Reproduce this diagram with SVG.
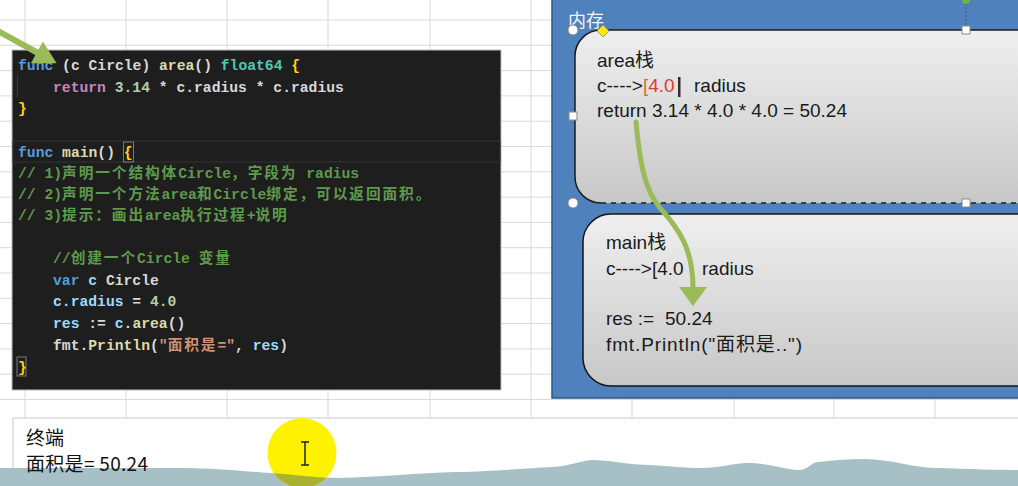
<svg xmlns="http://www.w3.org/2000/svg" width="1018" height="486" viewBox="0 0 1018 486">
<style>
.grid line{stroke:#d9d9d9;stroke-width:1}
.code{font-family:'Liberation Mono','Noto Sans CJK SC',monospace;font-size:14.7px;font-weight:bold;white-space:pre;fill:#d4d4d4}
.cj{letter-spacing:1.9px}
.kw{fill:#569cd6}.fn{fill:#dcdcaa}.ty{fill:#4ec9b0}.br{fill:#ffd700}.ctl{fill:#c586c0}.num{fill:#b5cea8}.var{fill:#9cdcfe}.str{fill:#ce9178}.cm{fill:#5f9a4c}.tx{fill:#d8d8d8}
.lbl{font-family:'Liberation Sans','Noto Sans CJK SC',sans-serif;font-size:19px;fill:#1a1a1a;white-space:pre}
.term{font-family:'Noto Sans CJK SC',sans-serif;font-size:19px;fill:#111;white-space:pre}
.hd{fill:#fff;stroke:#8a8a8a;stroke-width:1}
.arrow{fill:none;stroke:#9bbb59;stroke-linecap:round}
</style>
<defs>
<linearGradient id="boxg" x1="0" y1="0" x2="0" y2="1">
<stop offset="0" stop-color="#efefef"/>
<stop offset="1" stop-color="#c7c7c7"/>
</linearGradient>
<marker id="ah1" markerUnits="userSpaceOnUse" markerWidth="30" markerHeight="30" refX="1" refY="0" viewBox="0 -12 20 24" orient="auto" overflow="visible">
<path d="M0,-10 L18,0 L0,10 Z" fill="#9bbb59"/>
</marker>
<marker id="ah2" markerUnits="userSpaceOnUse" markerWidth="30" markerHeight="30" refX="1" refY="0" viewBox="0 -14 20 28" orient="auto" overflow="visible">
<path d="M0,-13 L18,0 L0,13 Z" fill="#9bbb59"/>
</marker>
<clipPath id="circClip"><ellipse cx="302" cy="453" rx="34.5" ry="35"/></clipPath>
</defs>

<rect x="0" y="0" width="1018" height="486" fill="#ffffff"/>

<g class="grid">
<line x1="25" y1="0" x2="25" y2="486"/>
<line x1="126" y1="0" x2="126" y2="486"/>
<line x1="227" y1="0" x2="227" y2="486"/>
<line x1="328" y1="0" x2="328" y2="486"/>
<line x1="430" y1="0" x2="430" y2="486"/>
<line x1="531" y1="0" x2="531" y2="486"/>
<line x1="632" y1="0" x2="632" y2="486"/>
<line x1="734" y1="0" x2="734" y2="486"/>
<line x1="834" y1="0" x2="834" y2="486"/>
<line x1="935" y1="0" x2="935" y2="486"/>
<line x1="0" y1="20" x2="1018" y2="20"/>
<line x1="0" y1="45.3" x2="1018" y2="45.3"/>
<line x1="0" y1="70.6" x2="1018" y2="70.6"/>
<line x1="0" y1="95.9" x2="1018" y2="95.9"/>
<line x1="0" y1="121.2" x2="1018" y2="121.2"/>
<line x1="0" y1="146.5" x2="1018" y2="146.5"/>
<line x1="0" y1="171.8" x2="1018" y2="171.8"/>
<line x1="0" y1="197.1" x2="1018" y2="197.1"/>
<line x1="0" y1="222.4" x2="1018" y2="222.4"/>
<line x1="0" y1="247.7" x2="1018" y2="247.7"/>
<line x1="0" y1="273" x2="1018" y2="273"/>
<line x1="0" y1="298.3" x2="1018" y2="298.3"/>
<line x1="0" y1="323.6" x2="1018" y2="323.6"/>
<line x1="0" y1="348.9" x2="1018" y2="348.9"/>
<line x1="0" y1="374.2" x2="1018" y2="374.2"/>
<line x1="0" y1="399.5" x2="1018" y2="399.5"/>
</g>

<g id="code-panel">
<rect x="12" y="50" width="489" height="340" fill="#1e1e1e" stroke="#bdbdbd" stroke-width="1"/>
<rect x="13" y="141" width="487" height="21" fill="none" stroke="#333333"/>
<rect x="123.5" y="142" width="10" height="20" fill="none" stroke="#7a7a7a"/>
<rect x="17" y="357" width="9" height="19" fill="none" stroke="#7a7a7a"/>
<line x1="17.5" y1="75" x2="17.5" y2="97" stroke="#3a3a3a" stroke-width="1"/>
<text class="code" x="18" y="70"><tspan class="kw">func</tspan><tspan class="tx"> (c Circle) </tspan><tspan class="fn">area</tspan><tspan class="tx">() </tspan><tspan class="ty">float64</tspan><tspan class="tx"> </tspan><tspan class="br">{</tspan></text>
<text class="code" x="53" y="92"><tspan class="ctl">return</tspan><tspan class="num"> 3.14</tspan><tspan class="tx"> * c.radius * c.radius</tspan></text>
<text class="code br" x="18" y="113">}</text>
<text class="code" x="18" y="157"><tspan class="kw">func</tspan><tspan class="tx"> </tspan><tspan class="fn">main</tspan><tspan class="tx">() </tspan><tspan class="br">{</tspan></text>
<text class="code cm" x="18" y="178">// 1)<tspan class="cj">声明一个结构体</tspan>Circle<tspan class="cj">，字段为</tspan> radius</text>
<text class="code cm" x="18" y="199">// 2)<tspan class="cj">声明一个方法</tspan>area<tspan class="cj">和</tspan>Circle<tspan class="cj">绑定，可以返回面积。</tspan></text>
<text class="code cm" x="18" y="220">// 3)<tspan class="cj">提示：画出</tspan>area<tspan class="cj">执行过程</tspan>+<tspan class="cj">说明</tspan></text>
<text class="code cm" x="53" y="263">//<tspan class="cj">创建一个</tspan>Circle <tspan class="cj">变量</tspan></text>
<text class="code" x="53" y="285"><tspan class="kw">var</tspan><tspan class="var"> c</tspan><tspan class="tx"> Circle</tspan></text>
<text class="code" x="53" y="306"><tspan class="var">c.radius</tspan><tspan class="tx"> = </tspan><tspan class="num">4.0</tspan></text>
<text class="code" x="53" y="328"><tspan class="var">res</tspan><tspan class="tx"> := </tspan><tspan class="var">c</tspan><tspan class="tx">.</tspan><tspan class="fn">area</tspan><tspan class="tx">()</tspan></text>
<text class="code" x="53" y="350"><tspan class="tx">fmt.</tspan><tspan class="fn">Println</tspan><tspan class="tx">(</tspan><tspan class="str">"<tspan class="cj">面积是</tspan>="</tspan><tspan class="tx">, </tspan><tspan class="var">res</tspan><tspan class="tx">)</tspan></text>
<text class="code br" x="18" y="372">}</text>
</g>

<g id="memory-panel">
<rect x="552" y="-1" width="480" height="399" fill="#4f81bd" stroke="#2f5685" stroke-width="1.5"/>
<text x="568" y="27" font-family="'Noto Sans CJK SC',sans-serif" font-size="18" fill="#f2f4f8">内存</text>
</g>

<g id="area-stack">
<rect x="575" y="30" width="470" height="173" rx="26" fill="url(#boxg)"/>
<path d="M601,203 A26,26 0 0 1 575,177 L575,56 A26,26 0 0 1 601,30 L1030,30" fill="none" stroke="#1c1c1c" stroke-width="1.5"/>
<line x1="601" y1="203" x2="1030" y2="203" stroke="#1c1c1c" stroke-width="1.5" stroke-dasharray="5 5"/>
<text class="lbl" x="597" y="67">area栈</text>
<text class="lbl" x="597" y="92">c----&gt;<tspan fill="#d07020">[</tspan><tspan fill="#e8382c">4.0</tspan></text>
<rect x="678" y="77" width="2.5" height="20" fill="#3a2a2a"/>
<text class="lbl" x="694" y="92">radius</text>
<text class="lbl" x="597" y="117" textLength="250" lengthAdjust="spacing">return 3.14 * 4.0 * 4.0 = 50.24</text>
<line x1="966" y1="3" x2="966" y2="26" stroke="#555" stroke-width="1" stroke-dasharray="2 2"/>
<circle cx="966" cy="0" r="4" fill="#6cb33f"/>
<circle class="hd" cx="573" cy="30" r="5"/>
<circle class="hd" cx="573" cy="203" r="5"/>
<rect class="hd" x="962" y="26" width="8" height="8"/>
<rect class="hd" x="569" y="112" width="8" height="8"/>
<rect class="hd" x="962" y="199" width="8" height="8"/>
<path d="M603,25 L609,31 L603,37 L597,31 Z" fill="#ffe600" stroke="#8a8a8a" stroke-width="0.8"/>
</g>

<g id="main-stack">
<rect x="583" y="214" width="470" height="172" rx="28" fill="url(#boxg)" stroke="#151515" stroke-width="1.5"/>
<text class="lbl" x="606" y="249">main栈</text>
<text class="lbl" x="606" y="275">c----&gt;[4.0</text>
<text class="lbl" x="702" y="275">radius</text>
<text class="lbl" x="606" y="325">res :=</text>
<text class="lbl" x="665" y="325">50.24</text>
<text class="lbl" x="606" y="351" textLength="196" lengthAdjust="spacing">fmt.Println("面积是..")</text>
</g>

<g id="terminal">
<rect x="13" y="418" width="1010" height="70" fill="#ffffff" stroke="#c9c9c9" stroke-width="1"/>
<path d="M0,468 L175,468 C220,468 250,472 270,473 C300,475 320,478 338,478 C380,477 420,473 455,472 C500,471 530,468 552,467 C570,466 580,461 591,460 C610,460 630,465 650,465 C670,466 685,468 700,468 C720,468 735,463 747,463 C770,463 785,470 799,470 C808,470 812,462 818,462 C835,460 850,459 864,459 C890,459 915,468 935,468 C970,469 1000,470 1018,470 L1018,486 L0,486 Z" fill="#a7c0c6"/>
<ellipse cx="302" cy="453" rx="34.5" ry="35" fill="#fff200"/>
<g clip-path="url(#circClip)">
<path d="M0,468 L175,468 C220,468 250,472 270,473 C300,475 320,478 338,478 C380,477 420,473 455,472 L455,486 L0,486 Z" fill="#a9b230"/>
</g>
<text class="term" x="26" y="445">终端</text>
<text class="term" x="26" y="471" textLength="122" lengthAdjust="spacing">面积是= 50.24</text>
<path d="M301,442 L309,442 M305,442 L305,465 M301,465 L309,465" stroke="#222" stroke-width="1.5" fill="none"/>
</g>

<g id="connectors">
<path class="arrow" d="M-4,30 L38,53" stroke-width="6" marker-end="url(#ah1)"/>
<path class="arrow" d="M636,122 C640,165 645,190 660,208 C680,230 693,250 693,288" stroke-width="5" marker-end="url(#ah2)"/>
</g>
</svg>
